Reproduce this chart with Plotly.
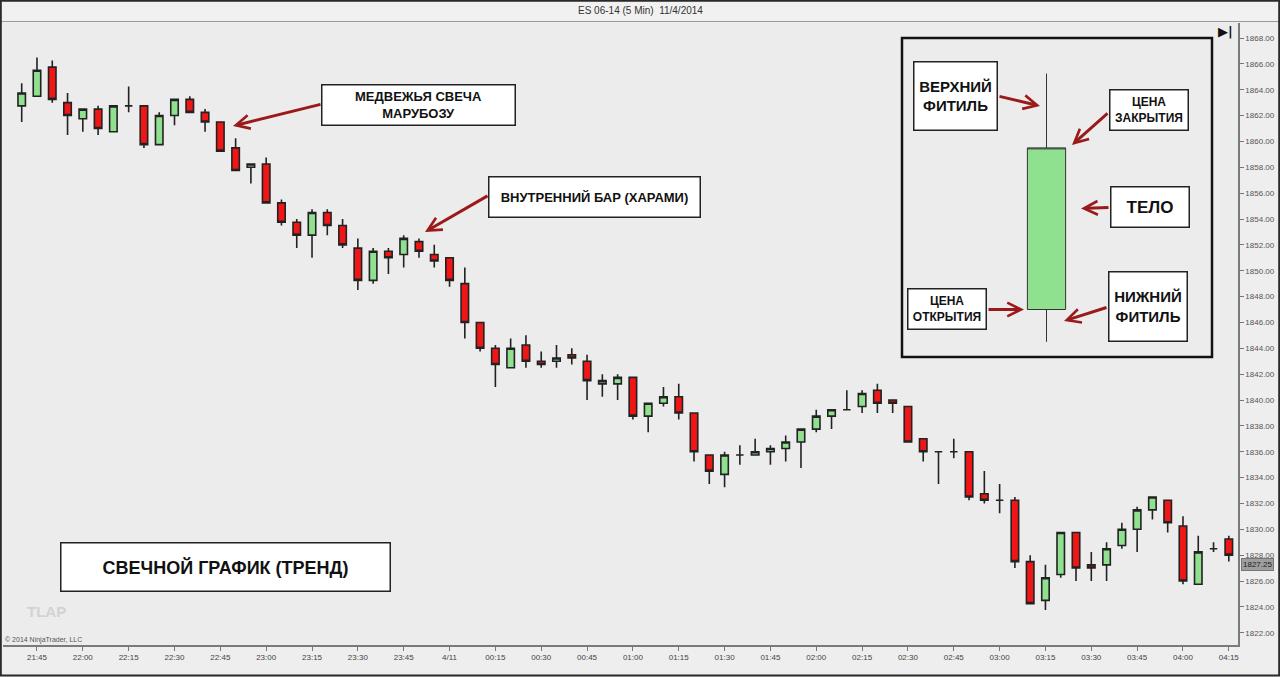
import plotly.graph_objects as go
from datetime import datetime, timedelta

# ---------------- data ----------------
TIMES = ["21:40", "21:45", "21:50", "21:55", "22:00", "22:05", "22:10", "22:15", "22:20", "22:25",
         "22:30", "22:35", "22:40", "22:45", "22:50", "22:55", "23:00", "23:05", "23:10", "23:15",
         "23:20", "23:25", "23:30", "23:35", "23:40", "23:45", "23:50", "23:55", "00:00", "00:05",
         "00:10", "00:15", "00:20", "00:25", "00:30", "00:35", "00:40", "00:45", "00:50", "00:55",
         "01:00", "01:05", "01:10", "01:15", "01:20", "01:25", "01:30", "01:35", "01:40", "01:45",
         "01:50", "01:55", "02:00", "02:05", "02:10", "02:15", "02:20", "02:25", "02:30", "02:35",
         "02:40", "02:45", "02:50", "02:55", "03:00", "03:05", "03:10", "03:15", "03:20", "03:25",
         "03:30", "03:35", "03:40", "03:45", "03:50", "03:55", "04:00", "04:05", "04:10", "04:15"]

OPEN = [1862.75, 1863.5, 1865.75, 1863.0, 1861.75, 1862.5, 1860.75, 1862.75, 1862.75, 1859.75,
        1862.0, 1863.25, 1862.25, 1861.5, 1859.5, 1858.0, 1858.25, 1855.25, 1853.75, 1852.75,
        1854.5, 1853.5, 1851.75, 1849.25, 1851.5, 1851.25, 1852.25, 1851.25, 1851.0, 1849.0,
        1846.0, 1844.0, 1842.5, 1844.25, 1843.0, 1843.0, 1843.5, 1843.0, 1841.25, 1841.25,
        1841.75, 1838.75, 1839.75, 1840.25, 1839.0, 1835.75, 1834.25, 1835.75, 1835.75, 1836.0,
        1836.25, 1836.75, 1837.75, 1838.75, 1839.25, 1839.5, 1840.75, 1840.0, 1839.5, 1837.0,
        1836.0, 1836.0, 1836.0, 1832.75, 1832.25, 1832.25, 1827.5, 1824.5, 1826.5, 1829.75,
        1827.25, 1827.25, 1828.75, 1830.0, 1831.5, 1832.25, 1830.25, 1825.75, 1828.5, 1829.25]
HIGH = [1864.5, 1866.5, 1866.25, 1863.75, 1862.5, 1862.75, 1862.75, 1864.25, 1862.75, 1862.25,
        1863.25, 1863.5, 1862.5, 1861.5, 1860.25, 1858.25, 1858.75, 1855.5, 1854.0, 1854.75,
        1854.75, 1854.0, 1852.5, 1851.75, 1851.75, 1852.75, 1852.5, 1852.0, 1851.0, 1850.25,
        1846.0, 1844.25, 1844.75, 1845.0, 1843.75, 1844.25, 1844.0, 1843.5, 1842.0, 1842.0,
        1841.75, 1839.75, 1841.0, 1841.25, 1839.0, 1835.75, 1836.0, 1836.5, 1837.0, 1836.5,
        1837.25, 1837.75, 1839.25, 1839.25, 1840.75, 1840.75, 1841.25, 1840.0, 1839.5, 1837.0,
        1836.0, 1837.0, 1836.0, 1834.5, 1833.5, 1832.5, 1828.0, 1827.25, 1829.75, 1829.75,
        1828.25, 1829.0, 1830.5, 1831.75, 1832.5, 1832.25, 1831.0, 1829.5, 1829.0, 1829.5]
LOW = [1861.5, 1863.5, 1863.0, 1860.5, 1860.75, 1860.5, 1860.75, 1862.25, 1859.5, 1859.75,
       1861.25, 1862.25, 1860.75, 1859.25, 1857.75, 1856.75, 1855.25, 1853.5, 1851.75, 1851.0,
       1852.75, 1851.75, 1848.5, 1849.0, 1849.75, 1850.25, 1851.0, 1850.25, 1848.75, 1844.75,
       1843.75, 1841.0, 1842.5, 1842.5, 1842.5, 1842.5, 1842.75, 1840.0, 1840.25, 1840.0,
       1838.5, 1837.5, 1839.5, 1838.5, 1835.25, 1833.5, 1833.25, 1835.0, 1835.75, 1835.0,
       1835.25, 1834.75, 1837.5, 1837.75, 1839.25, 1839.0, 1839.0, 1839.0, 1836.75, 1835.25,
       1833.5, 1835.5, 1832.25, 1832.0, 1831.25, 1827.0, 1824.25, 1823.75, 1826.25, 1826.0,
       1826.0, 1826.0, 1828.5, 1828.25, 1830.75, 1829.75, 1825.75, 1825.75, 1828.25, 1827.5]
CLOSE = [1863.75, 1865.5, 1863.25, 1862.0, 1862.5, 1861.0, 1862.75, 1862.75, 1859.75, 1862.0,
         1863.25, 1862.25, 1861.5, 1859.25, 1857.75, 1858.25, 1855.25, 1853.75, 1852.75, 1854.5,
         1853.5, 1852.0, 1849.25, 1851.5, 1851.0, 1852.5, 1851.5, 1850.75, 1849.25, 1846.0,
         1844.0, 1842.75, 1844.0, 1843.0, 1842.75, 1843.25, 1843.25, 1841.5, 1841.5, 1841.75,
         1838.75, 1839.75, 1840.25, 1839.0, 1836.0, 1834.5, 1835.75, 1835.75, 1836.0, 1836.25,
         1836.75, 1837.75, 1838.75, 1839.25, 1839.25, 1840.5, 1839.75, 1839.75, 1836.75, 1836.0,
         1836.0, 1836.0, 1832.5, 1832.25, 1832.25, 1827.5, 1824.25, 1826.25, 1829.75, 1827.0,
         1827.0, 1828.5, 1830.0, 1831.5, 1832.5, 1830.5, 1826.0, 1828.25, 1828.5, 1828.0]

X_TICK_LABELS = ["21:45", "22:00", "22:15", "22:30", "22:45", "23:00", "23:15", "23:30", "23:45",
                 "4/11", "00:15", "00:30", "00:45", "01:00", "01:15", "01:30", "01:45", "02:00",
                 "02:15", "02:30", "02:45", "03:00", "03:15", "03:30", "03:45", "04:00", "04:15"]
Y_TICKS = [1822, 1824, 1826, 1828, 1830, 1832, 1834, 1836, 1838, 1840, 1842, 1844, 1846,
           1848, 1850, 1852, 1854, 1856, 1858, 1860, 1862, 1864, 1866, 1868]
LAST_PRICE = 1827.25

# illustrative candle in the legend box
DIAG_OPEN, DIAG_HIGH, DIAG_LOW, DIAG_CLOSE = 1847.0, 1865.25, 1844.5, 1859.5

# ---------------- build datetimes ----------------
day0 = datetime(2014, 4, 10)
stamps = []
cur_day = day0
prev_h = None
for t in TIMES:
    h, m = map(int, t.split(":"))
    if prev_h is not None and h < prev_h:
        cur_day = cur_day + timedelta(days=1)
    prev_h = h
    stamps.append(cur_day.replace(hour=h, minute=m))

tick_keys = [lbl if lbl != "4/11" else "00:00" for lbl in X_TICK_LABELS]
tick_vals = [s for s in stamps if s.strftime("%H:%M") in tick_keys]

# ---------------- geometry helpers ----------------
W, H = 1280, 677
ML, MR, MT, MB = 3, 42, 23, 32
PW, PH = W - ML - MR, H - MT - MB


def px(x):
    return (x - ML) / PW


def py(y):
    return 1 - (y - MT) / PH


GREEN = "#8fe08f"
RED = "#f01616"
EDGE = "#222222"
ARROW = "#9a1a1a"
FONT = "Liberation Sans, Arial, sans-serif"

fig = go.Figure()
fig.add_trace(go.Candlestick(
    x=stamps, open=OPEN, high=HIGH, low=LOW, close=CLOSE,
    increasing=dict(fillcolor=GREEN, line=dict(color=EDGE, width=1.6)),
    decreasing=dict(fillcolor=RED, line=dict(color=EDGE, width=1.6)),
    showlegend=False, hoverinfo="skip"))

fig.add_trace(go.Candlestick(
    x=[0], open=[DIAG_OPEN], high=[DIAG_HIGH], low=[DIAG_LOW], close=[DIAG_CLOSE],
    xaxis="x2", yaxis="y",
    increasing=dict(fillcolor=GREEN, line=dict(color="#333333", width=1)),
    decreasing=dict(fillcolor=GREEN, line=dict(color="#333333", width=1)),
    showlegend=False, hoverinfo="skip"))

# x range in time: first candle sits ~18.7px right of plot edge; 15.28px per bar
bar_px = 15.28
first_px = 21.7
start = stamps[0] - timedelta(minutes=5 * (first_px - ML) / bar_px)
end = stamps[0] + timedelta(minutes=5 * (ML + PW - first_px) / bar_px)

# diagram axis: single candle body is 0.5 unit wide -> 39px; centred at 1046px
unit = 39 / 0.5
x2_lo = -(1046.5 - ML) / unit
x2_hi = (ML + PW - 1046.5) / unit

annotations = []


def box(cx, cy, w, h, text, size, bw=1.5):
    annotations.append(dict(
        x=px(cx), y=py(cy), xref="paper", yref="paper", text=text, showarrow=False,
        xanchor="center", yanchor="middle",
        width=w - 2 * bw, height=h - 2 * bw, bgcolor="white", bordercolor="#222222",
        borderwidth=bw, borderpad=0, align="center", valign="middle",
        font=dict(family=FONT, size=size, color="#111111")))


def arrow(tx, ty, hx, hy):
    annotations.append(dict(
        x=px(hx), y=py(hy), xref="paper", yref="paper", ax=tx - hx, ay=ty - hy,
        text="", showarrow=True, arrowhead=5, arrowsize=0.9, arrowwidth=3,
        arrowcolor=ARROW, standoff=0, startstandoff=0))


def label(x, y, text, size, color, xanchor="center", family=FONT, yref="paper", **kw):
    annotations.append(dict(
        x=px(x), y=(py(y) if yref == "paper" else y), xref="paper", yref=yref,
        showarrow=False, xanchor=xanchor, yanchor="middle", text=text,
        font=dict(family=family, size=size, color=color), **kw))


# arrows first so boxes sit on top
arrow(322, 104, 233, 126)
arrow(489, 195, 425, 232)
arrow(998, 96, 1040, 106)
arrow(1109, 112, 1072, 145)
arrow(1110, 207.5, 1081, 208.5)
arrow(987, 309.5, 1024, 309.5)
arrow(1108, 307, 1064, 321)

box(418, 105.5, 195, 42, "<b>МЕДВЕЖЬЯ СВЕЧА<br>МАРУБОЗУ</b>", 13)
box(594, 196.6, 213, 42, "<b>ВНУТРЕННИЙ БАР (ХАРАМИ)</b>", 13)
box(225.5, 567.3, 331, 50, "<b>СВЕЧНОЙ ГРАФИК (ТРЕНД)</b>", 18)
box(955.5, 96, 85, 70, "<b>ВЕРХНИЙ<br>ФИТИЛЬ</b>", 15)
box(1149.3, 110.2, 80, 42, "<b>ЦЕНА<br>ЗАКРЫТИЯ</b>", 12)
box(1150, 206.7, 80, 42, "<b>ТЕЛО</b>", 17)
box(946.7, 309.2, 80, 42, "<b>ЦЕНА<br>ОТКРЫТИЯ</b>", 12)
box(1147.5, 306.4, 80, 71, "<b>НИЖНИЙ<br>ФИТИЛЬ</b>", 15)

# plain texts
label(640, 11, "ES 06-14 (5 Min)  11/4/2014", 10, "#333333")
label(25, 611.5, "<b>TLAP</b>", 15, "#d2d2d2", xanchor="left")
label(3, 640, "© 2014 NinjaTrader, LLC", 7, "#555555", xanchor="left")
label(1225, 32, "<b>▶|</b>", 13, "#111111", family="DejaVu Sans")
label(1257, LAST_PRICE, f"{LAST_PRICE:.2f}", 8, "#222222", yref="y",
      bgcolor="#9e9e9e", bordercolor="#777777", borderwidth=1, borderpad=1)

shapes = [
    # title bar
    dict(type="rect", xref="paper", yref="paper", x0=px(0), x1=px(1280), y0=py(0), y1=py(21.5),
         fillcolor="#f1f1f1", line=dict(width=0), layer="below"),
    dict(type="line", xref="paper", yref="paper", x0=px(0), x1=px(1280), y0=py(21.5), y1=py(21.5),
         line=dict(color="#9a9a9a", width=1)),
    # legend frame
    dict(type="rect", xref="paper", yref="paper", x0=px(902), x1=px(1212), y0=py(38), y1=py(357),
         line=dict(color="#111111", width=2.5), fillcolor="rgba(0,0,0,0)", layer="below"),
    # outer border
    dict(type="rect", xref="paper", yref="paper", x0=px(0.8), x1=px(1279.2), y0=py(0.8), y1=py(675.5),
         line=dict(color="#2a2a2a", width=2), fillcolor="rgba(0,0,0,0)"),
]

fig.update_layout(
    width=W, height=H,
    margin=dict(l=ML, r=MR, t=MT, b=MB, pad=0),
    paper_bgcolor="#eeeeee", plot_bgcolor="#ececec",
    showlegend=False, boxgap=0.3,
    font=dict(family=FONT, size=8, color="#444444"),
    xaxis=dict(type="date", range=[start, end], rangeslider=dict(visible=False),
               tickvals=tick_vals, ticktext=X_TICK_LABELS, ticks="outside", ticklen=4,
               tickcolor="#777777", showline=True, linecolor="#7a7a7a", linewidth=1.5,
               showgrid=False, zeroline=False, tickfont=dict(size=8, color="#444444")),
    xaxis2=dict(overlaying="x", range=[x2_lo, x2_hi], visible=False,
                rangeslider=dict(visible=False), showgrid=False),
    yaxis=dict(range=[1821.05, 1869.16], side="right", tickvals=Y_TICKS,
               ticktext=[f"{v:.2f}" for v in Y_TICKS], ticks="outside", ticklen=4,
               tickcolor="#777777", showline=True, linecolor="#7a7a7a", linewidth=1.5,
               showgrid=False, zeroline=False, tickfont=dict(size=8, color="#555555")),
    annotations=annotations, shapes=shapes,
)

fig.write_html("out.html")
